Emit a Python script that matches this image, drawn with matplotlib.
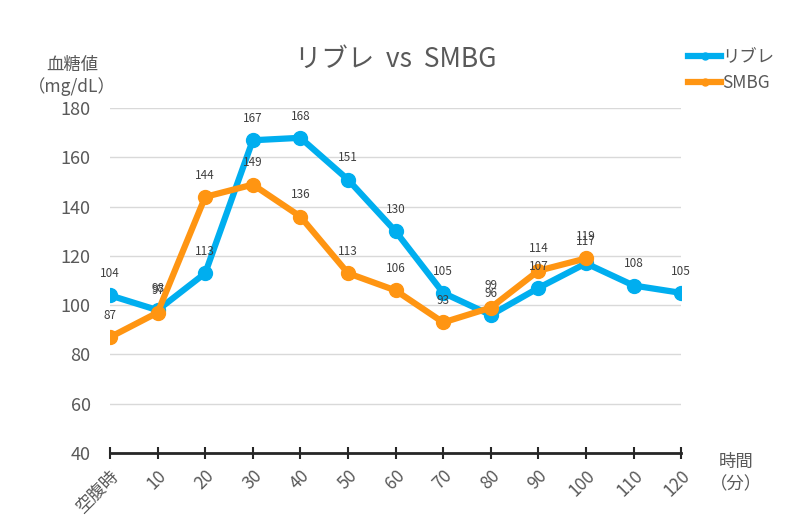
import matplotlib
matplotlib.use("Agg")
import matplotlib.pyplot as plt

plt.rcParams['font.family'] = ['Noto Sans CJK JP', 'DejaVu Sans']

categories = ["空腹時", "10", "20", "30", "40", "50", "60", "70", "80", "90", "100", "110", "120"]
libre = [104, 98, 113, 167, 168, 151, 130, 105, 96, 107, 117, 108, 105]
smbg = [87, 97, 144, 149, 136, 113, 106, 93, 99, 114, 119]

blue = "#00AEEF"
orange = "#FF9512"
gray = "#595959"

fig = plt.figure(figsize=(8, 5.23), dpi=100)
ax = fig.add_axes([0.1375, 0.134, 0.714, 0.659])

x_libre = list(range(len(libre)))
x_smbg = list(range(len(smbg)))

ax.plot(x_libre, libre, color=blue, lw=4.5, marker="o", markersize=10, label="リブレ", zorder=3)
ax.plot(x_smbg, smbg, color=orange, lw=4.5, marker="o", markersize=10, label="SMBG", zorder=4)

# data labels
for x, v in zip(x_libre, libre):
    ax.annotate(str(v), (x, v), textcoords="offset points", xytext=(0, 11),
                ha="center", va="bottom", fontsize=8.5, color="#404040", zorder=5)
for x, v in zip(x_smbg, smbg):
    ax.annotate(str(v), (x, v), textcoords="offset points", xytext=(0, 11),
                ha="center", va="bottom", fontsize=8.5, color="#404040", zorder=5)

ax.set_xlim(0, 12)
ax.set_ylim(40, 180)
ax.set_yticks(range(40, 181, 20))
ax.set_xticks(range(len(categories)))
ax.set_xticklabels(categories, rotation=45, ha="right", rotation_mode="anchor")
ax.grid(axis="y", color="#D9D9D9", lw=1)
ax.set_axisbelow(True)
for s in ["top", "right", "left"]:
    ax.spines[s].set_visible(False)
ax.spines["bottom"].set_color("#262626")
ax.spines["bottom"].set_linewidth(2)
ax.tick_params(axis="x", direction="inout", length=8, width=1.5, color="#262626",
               labelsize=12.5, labelcolor=gray, pad=6)
ax.tick_params(axis="y", length=0, labelsize=13, labelcolor=gray, pad=14)

ax.set_title("リブレ  vs  SMBG", fontsize=19, color=gray, pad=30)
fig.text(0.09, 0.855, "血糖値\n（mg/dL）", ha="center", va="center", fontsize=12.5,
         color=gray, linespacing=1.25)
fig.text(0.92, 0.095, "時間\n（分）", ha="center", va="center", fontsize=12.5,
         color=gray, linespacing=1.3)

leg = ax.legend(loc="upper left", bbox_to_anchor=(0.985, 1.22), frameon=False,
                fontsize=12.5, handlelength=1.9, handletextpad=0.05, labelspacing=0.45,
                markerscale=0.5)
for t in leg.get_texts():
    t.set_color(gray)

fig.savefig("out.png", dpi=100)
